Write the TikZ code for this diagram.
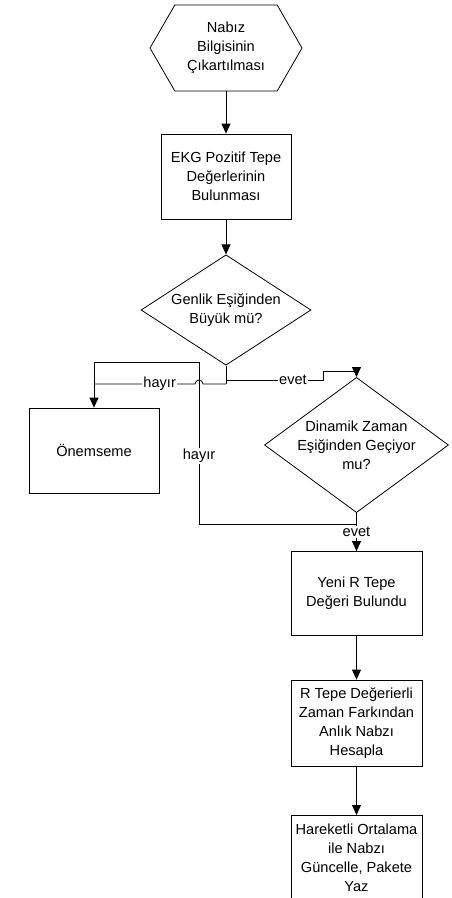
\documentclass[tikz,border=0pt]{standalone}
\usepackage{fontspec}
\setmainfont{Liberation Sans}
\usetikzlibrary{arrows.meta,shapes.geometric,shapes.symbols}

\begin{document}
\begin{tikzpicture}[x=1pt,y=-1pt,>={Triangle[width=9pt,length=10pt]},
  every node/.style={font=\fontsize{14.6}{19}\selectfont,align=center},
  flow/.style={draw,line width=0.8pt,rectangle,minimum width=130pt,minimum height=85pt,inner sep=0pt},
  decide/.style={draw,line width=0.8pt,diamond,inner sep=-8pt},
  lbl/.style={fill=white,inner sep=1pt},
  conn/.style={line width=0.8pt}]
  \useasboundingbox (0,0) rectangle (452,898);

  % left column
  \node[draw,line width=0.8pt,signal,signal to=east and west,signal pointer angle=120,
        minimum width=152pt,minimum height=86pt,inner sep=0pt] (start) at (226,48)
        {Nabız\\Bilgisinin\\Çıkartılması};
  \node[flow] (ekg) at (226,176.5) {EKG Pozitif Tepe\\Değerlerinin\\Bulunması};
  \node[decide,minimum width=170pt,minimum height=110pt] (genlik) at (226,310)
        {Genlik Eşiğinden\\Büyük mü?};
  \node[flow] (onem) at (94,450.5) {Önemseme};

  % right column
  \node[decide,minimum width=184pt,minimum height=120pt] (dinamik) at (356.5,445)
        {Dinamik Zaman\\Eşiğinden Geçiyor\\mu?};
  \node[flow,minimum width=131pt,minimum height=84pt] (yeni) at (356.5,593.5)
        {Yeni R Tepe\\Değeri Bulundu};
  \node[flow,minimum width=131pt,minimum height=86pt] (rtepe) at (356.5,723)
        {R Tepe Değerierli\\Zaman Farkından\\Anlık Nabzı\\Hesapla};
  \node[flow,minimum width=131pt,anchor=north] (hare) at (356.5,815)
        {Hareketli Ortalama\\ile Nabzı\\Güncelle, Pakete\\Yaz};

  % branch points
  \coordinate (split) at (226,384);
  \coordinate (yes1) at (226,380);

  \draw[conn,->] (start.south) -- (ekg.north);
  \draw[conn,->] (ekg.south) -- (genlik.north);
  \draw[conn] (genlik.south) -- (split);

  % hayir from the first test, hopping over the loop line
  \draw[conn] (split) -- (203,384) arc[start angle=0,end angle=180,radius=4pt]
        -- node[lbl,pos=0.35] {hayır} (94,384);
  % evet from the first test
  \draw[conn,->] (yes1) -- node[lbl,pos=0.69] {evet} (323,380) -- (323,371) -| (dinamik.north);

  % hayir from the second test
  \draw[conn,->] (dinamik.south) -- ++(0,11) -| node[lbl,pos=0.71] {hayır} (199,362)
        -| (onem.north);
  % evet from the second test
  \draw[conn,->] (dinamik.south) -- node[lbl] {evet} (yeni.north);

  \draw[conn,->] (yeni.south) -- (rtepe.north);
  \draw[conn,->] (rtepe.south) -- (hare.north);
\end{tikzpicture}
\end{document}
